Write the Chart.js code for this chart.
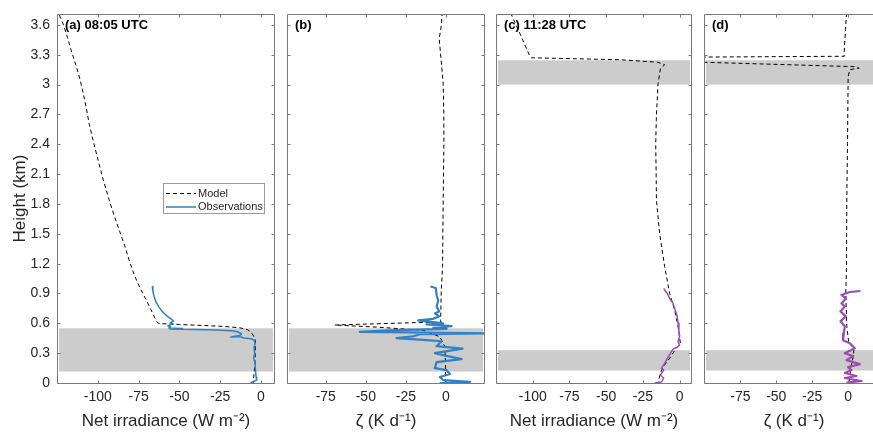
<!DOCTYPE html>
<html><head><meta charset="utf-8">
<script src="https://cdn.jsdelivr.net/npm/chart.js@4.4.1/dist/chart.umd.min.js"></script>
<style>
html,body{margin:0;padding:0;background:#fff;}
#wrap{position:relative;width:873px;height:433px;overflow:hidden;background:#fff;}
canvas{position:absolute;top:0;}
</style></head><body>
<div id="wrap">
<canvas id="ca" width="282" height="433" style="left:0px;width:282px;height:433px"></canvas>
<canvas id="cb" width="212" height="433" style="left:280px;width:212px;height:433px"></canvas>
<canvas id="cc" width="210" height="433" style="left:489px;width:210px;height:433px"></canvas>
<canvas id="cd" width="200" height="433" style="left:697px;width:200px;height:433px"></canvas>
</div>
<script>
// ---------------- data ----------------
const heightTicks = [0, 0.3, 0.6, 0.9, 1.2, 1.5, 1.8, 2.1, 2.4, 2.7, 3, 3.3, 3.6];
const irradianceTicks = [-100, -75, -50, -25, 0];
const heatingTicks = [-75, -50, -25, 0];
const panelLabels = ['(a) 08:05 UTC', '(b)', '(c) 11:28 UTC', '(d)'];
const seriesNames = ['Model', 'Observations'];
const axisTitles = ['Net irradiance (W m\u207B\u00B2)', '\u03B6 (K d\u207B\u00B9)', 'Height (km)'];

// cloud layers [base, top] in km
const cloudLayers0805 = [[0.115, 0.55]];
const cloudLayers1128 = [[0.125, 0.33], [3.0, 3.245]];

// [value, height km]
const modelIrr0805 = [[-126.5,3.75],[-123.6,3.70],[-121,3.60],[-118.5,3.47],[-116.4,3.35],[-113.5,3.20],[-111,3.06],[-109,2.92],[-107,2.76],[-105.2,2.60],[-103.5,2.48],[-101.5,2.35],[-99.5,2.22],[-97.3,2.08],[-95,1.95],[-92.3,1.80],[-89.5,1.66],[-86.5,1.52],[-83.5,1.38],[-80.5,1.22],[-77.5,1.08],[-74,0.95],[-70.5,0.84],[-67.5,0.74],[-65.2,0.66],[-63.8,0.615],[-62.5,0.598],[-50,0.588],[-35,0.578],[-22,0.568],[-13,0.555],[-8,0.535],[-5.5,0.50],[-4,0.455],[-3.4,0.42],[-3.5,0.30],[-3.7,0.18],[-4.3,0.09],[-4.8,0]];
const obsIrr0805 = [[-66.6,0.97],[-66.2,0.92],[-65.5,0.87],[-64.2,0.81],[-62.8,0.77],[-61,0.73],[-58.8,0.69],[-56.5,0.66],[-54.8,0.64],[-53.6,0.625],[-55.6,0.605],[-54,0.595],[-57,0.575],[-55.5,0.565],[-56.5,0.552],[-48,0.547],[-56,0.543],[-40,0.538],[-28,0.532],[-18,0.525],[-14.5,0.515],[-12,0.495],[-12.5,0.48],[-18.5,0.462],[-13,0.468],[-10.5,0.452],[-6,0.445],[-4.2,0.43],[-3.6,0.40],[-4.3,0.35],[-3.8,0.30],[-4.5,0.25],[-3.7,0.20],[-3.3,0.12],[-3.0,0.06],[-2.6,0.03],[-6.5,0]];
const modelHeat0805 = [[-2.3,3.73],[-2.8,3.60],[-4.2,3.46],[-3,3.25],[-1.7,3.01],[-1.3,2.70],[-1.25,2.41],[-1.5,2.10],[-1.7,1.84],[-1.9,1.50],[-2.1,1.17],[-2.9,0.93],[-3.3,0.63],[-3,0.612],[-16.3,0.608],[-69.4,0.583],[-41.3,0.56],[-14.2,0.53],[-3.8,0.465],[-0.6,0.365],[-0.2,0.16],[-0.4,0]];
const obsHeat0805 = [[-9.6,0.97],[-6.3,0.955],[-5.8,0.88],[-4.8,0.83],[-5.8,0.77],[-4.2,0.72],[-6.9,0.70],[-4.2,0.67],[-7.9,0.645],[-17.3,0.63],[-1.7,0.60],[-12.1,0.59],[3.5,0.572],[-7.9,0.555],[0.4,0.545],[-31.9,0.532],[-53.8,0.515],[25.5,0.50],[-16.3,0.49],[-20.4,0.47],[-30.8,0.452],[-12.1,0.432],[-2.7,0.42],[-5.8,0.37],[10.4,0.345],[-6.9,0.30],[-1.7,0.28],[9.8,0.24],[-5.8,0.21],[-6.9,0.15],[0.4,0.13],[2.5,0.09],[-3.8,0.06],[-1.7,0.03],[15,0.012],[-3.8,0]];
const modelIrr1128 = [[-115,3.72],[-113.2,3.66],[-108.6,3.51],[-101.8,3.28],[-101,3.27],[-40,3.25],[-14.9,3.225],[-10.2,3.20],[-13.1,3.16],[-14.7,3.01],[-15.8,2.70],[-16.3,2.41],[-16,2.10],[-15.8,1.84],[-13.6,1.50],[-10.2,1.17],[-6.8,0.90],[-3.4,0.73],[-1.1,0.57],[0.5,0.40],[-2.3,0.35],[-6.8,0.25],[-11.3,0.16],[-13.1,0.10],[-14.7,0]];
const obsIrr1128 = [[-10.9,0.95],[-8.5,0.90],[-6.8,0.85],[-4.5,0.80],[-3.4,0.75],[-1.8,0.68],[-1.1,0.60],[-0.5,0.53],[0,0.47],[-1.1,0.42],[0,0.38],[-2,0.36],[-4.5,0.34],[-7.9,0.26],[-10.2,0.20],[-12.4,0.15],[-10.9,0.13],[-13.1,0.08],[-10.9,0.05],[-12.4,0.01],[-17,0]];
const modelHeat1128 = [[-1.1,3.72],[-1.8,3.55],[-2.8,3.30],[-2.6,3.285],[-160,3.272],[-160,3.25],[5.8,3.18],[7.7,3.165],[1.2,3.15],[0,3.08],[0,3.01],[-0.4,2.41],[-0.9,1.84],[-1.1,1.17],[-1.6,0.90],[-0.9,0.57],[0.5,0.40],[4.2,0.35],[3.5,0.26],[1.9,0.16],[1.2,0.06],[0.5,0]];
const obsHeat1128 = [[8.6,0.925],[1.2,0.915],[-4.6,0.885],[-1.6,0.85],[-4.6,0.80],[-2.3,0.77],[-5.3,0.72],[-1.6,0.67],[-5.3,0.62],[-2.3,0.57],[-3.0,0.50],[-3.5,0.43],[1.2,0.40],[4.7,0.35],[-2.3,0.30],[3.5,0.27],[-1.1,0.23],[8.1,0.19],[0,0.16],[2.4,0.13],[-2.3,0.10],[5.8,0.07],[-2.3,0.05],[9.3,0.02],[-1.1,0.003]];

// ---------------- drawing ----------------
const FONT = "'Liberation Sans', Arial, Helvetica, sans-serif";
const TXT = '#262626';
const FRAME = '#7a7a7a';

const framePlugin = {
  id: 'frame',
  beforeDatasetsDraw(chart, args, o) {
    const ctx = chart.ctx, ca = chart.chartArea, y = chart.scales.y;
    ctx.save();
    ctx.fillStyle = '#cccccc';
    (o.bands || []).forEach(b => {
      const y1 = y.getPixelForValue(b[1]), y0 = y.getPixelForValue(b[0]);
      ctx.fillRect(ca.left + 2, y1, ca.right - ca.left - 4, y0 - y1);
    });
    ctx.restore();
  },
  afterDatasetsDraw(chart, args, o) {
    const ctx = chart.ctx, ca = chart.chartArea, x = chart.scales.x, y = chart.scales.y;
    ctx.save();
    ctx.strokeStyle = FRAME; ctx.lineWidth = 1; ctx.setLineDash([]);
    const L = Math.round(ca.left) + 0.5, R = Math.round(ca.right) - 0.5, T = Math.round(ca.top) + 0.5, B = Math.round(ca.bottom) + 0.5;
    ctx.beginPath();
    ctx.moveTo(L, T); ctx.lineTo(R, T); ctx.lineTo(R, B); ctx.lineTo(L, B); ctx.closePath();
    const tl = 3;
    (o.xticks || []).forEach(v => {
      const px = Math.round(x.getPixelForValue(v)) + 0.5;
      ctx.moveTo(px, B); ctx.lineTo(px, B - tl);
      ctx.moveTo(px, T); ctx.lineTo(px, T + tl);
    });
    heightTicks.forEach(v => {
      const py = Math.round(y.getPixelForValue(v)) + 0.5;
      ctx.moveTo(L, py); ctx.lineTo(L + tl, py);
      ctx.moveTo(R, py); ctx.lineTo(R - tl, py);
    });
    ctx.stroke();
    // panel label
    ctx.fillStyle = '#000';
    ctx.font = 'bold 13px ' + FONT;
    ctx.textBaseline = 'middle'; ctx.textAlign = 'left';
    ctx.fillText(o.label, ca.left + 8, ca.top + 11);
    // legend
    if (o.legend) {
      const bx = Math.round(ca.left) + 106, by = Math.round(ca.top) + 169, bw = 101, bh = 30;
      ctx.fillStyle = '#fff'; ctx.fillRect(bx, by, bw, bh);
      ctx.strokeStyle = '#9a9a9a'; ctx.lineWidth = 1; ctx.strokeRect(bx + 0.5, by + 0.5, bw, bh);
      ctx.font = '11px ' + FONT;
      seriesNames.forEach((name, i) => {
        const ds = chart.data.datasets.find(d => d.label === name);
        const yy = by + 10.5 + i * 13.5;
        ctx.strokeStyle = ds.borderColor; ctx.lineWidth = ds.borderWidth;
        ctx.setLineDash(ds.borderDash || []);
        ctx.beginPath(); ctx.moveTo(bx + 3, yy); ctx.lineTo(bx + 33, yy); ctx.stroke();
        ctx.setLineDash([]);
        ctx.fillStyle = TXT; ctx.fillText(name, bx + 35, yy);
      });
    }
    ctx.restore();
  }
};

const pts = arr => arr.map(p => ({x: p[0], y: p[1]}));

function makePanel(id, p) {
  return new Chart(document.getElementById(id), {
    type: 'scatter',
    data: {datasets: [
      {label: seriesNames[1], data: pts(p.obs), showLine: true, borderColor: p.obsColor, borderWidth: p.obsWidth, pointRadius: 0, tension: 0, borderJoinStyle: 'round'},
      {label: seriesNames[0], data: pts(p.model), showLine: true, borderColor: '#000', borderWidth: 1, borderDash: [4, 3], pointRadius: 0, tension: 0}
    ]},
    options: {
      responsive: false, animation: false, devicePixelRatio: 1,
      layout: {padding: {left: p.padL, right: p.padR, top: 14, bottom: 0}},
      plugins: {legend: {display: false}, tooltip: {enabled: false},
        frame: {bands: p.bands, label: p.label, legend: p.legend, xticks: p.xticks}},
      scales: {
        x: {type: 'linear', position: 'bottom', min: p.xmin, max: p.xmax,
          afterBuildTicks: s => { s.ticks = p.xticks.map(v => ({value: v})); },
          afterFit: s => { s.height = 50; s.paddingLeft = 0; s.paddingRight = 0; },
          grid: {display: false, drawTicks: false}, border: {display: false},
          ticks: {padding: 6, color: TXT, font: {family: FONT, size: 14}, maxRotation: 0, callback: v => String(v)},
          title: {display: true, text: p.xtitle, color: TXT, font: {family: FONT, size: 17}, padding: {top: 0, bottom: 1}}},
        y: {type: 'linear', position: 'left', min: 0, max: 3.71, display: p.showY,
          afterBuildTicks: s => { s.ticks = heightTicks.map(v => ({value: v})); },
          afterFit: s => { if (p.showY) s.width = 57; s.paddingTop = 0; s.paddingBottom = 0; },
          grid: {display: false, drawTicks: false}, border: {display: false},
          ticks: {padding: 7, color: TXT, font: {family: FONT, size: 14}, callback: v => String(v)},
          title: {display: true, text: axisTitles[2], color: TXT, font: {family: FONT, size: 17}, padding: {top: 10, bottom: 0}}}
      }
    },
    plugins: [framePlugin]
  });
}

const BLUE = '#3381c4', PURPLE = '#9c4db2';
makePanel('ca', {obs: obsIrr0805, model: modelIrr0805, obsColor: BLUE, obsWidth: 1.5, bands: cloudLayers0805, label: panelLabels[0], legend: true,
  xticks: irradianceTicks, xmin: -125, xmax: 8.6, xtitle: axisTitles[0], showY: true, padL: 0, padR: 7});
makePanel('cb', {obs: obsHeat0805, model: modelHeat0805, obsColor: BLUE, obsWidth: 2.2, bands: cloudLayers0805, label: panelLabels[1], legend: false,
  xticks: heatingTicks, xmin: -99.2, xmax: 24.4, xtitle: axisTitles[1], showY: false, padL: 7, padR: 7});
makePanel('cc', {obs: obsIrr1128, model: modelIrr1128, obsColor: PURPLE, obsWidth: 1.5, bands: cloudLayers1128, label: panelLabels[2], legend: false,
  xticks: irradianceTicks, xmin: -125, xmax: 8.4, xtitle: axisTitles[0], showY: false, padL: 7, padR: 7});
makePanel('cd', {obs: obsHeat1128, model: modelHeat1128, obsColor: PURPLE, obsWidth: 2.2, bands: cloudLayers1128, label: panelLabels[3], legend: false,
  xticks: heatingTicks, xmin: -100.3, xmax: 25, xtitle: axisTitles[1], showY: false, padL: 7, padR: 13});
</script>
</body></html>
